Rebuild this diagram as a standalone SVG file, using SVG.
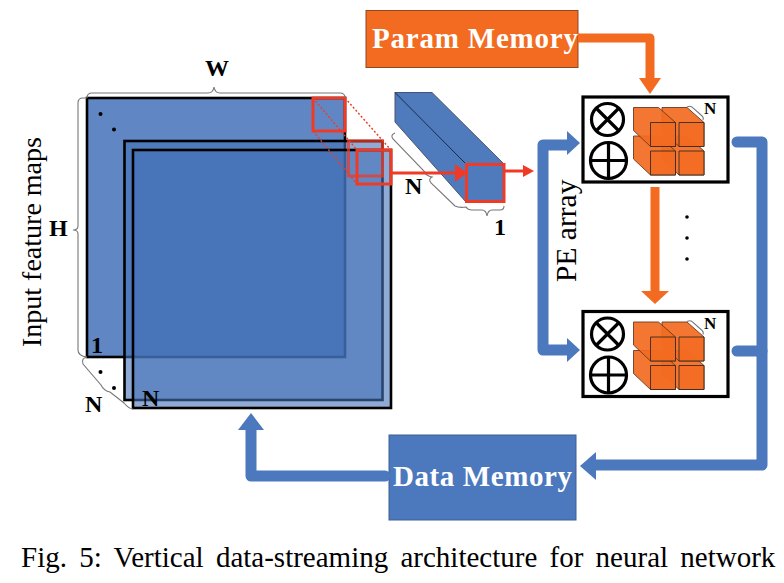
<svg xmlns="http://www.w3.org/2000/svg" width="784" height="583" viewBox="0 0 784 583">
<style>
text{font-family:"Liberation Serif","Times New Roman",serif;fill:#000}
.b{font-weight:bold;font-size:24px}
.mem{font-weight:bold;font-size:29px;fill:#fff}
.sheet{fill:#4472b8;fill-opacity:.6;stroke:#000;stroke-width:2.6}
.redbox{fill:none;stroke:#f03a26;stroke-width:3}
.dash{fill:none;stroke:#f03a26;stroke-width:1.4;stroke-dasharray:2 2}
.brace{fill:none;stroke:#777;stroke-width:1.1}
.bl{fill:none;stroke:#4c78bd;stroke-width:11;stroke-linejoin:round;stroke-linecap:round}
.blf{fill:#4c78bd}
.or{fill:none;stroke:#f26b21;stroke-width:9;stroke-linejoin:round}
.orf{fill:#f26b21}
.pe{fill:#fff;stroke:#000;stroke-width:3.2}
.c{fill:none;stroke:#000;stroke-width:3.2}
.ct{fill:#f26b21;fill-opacity:.92;stroke:#6a3a20;stroke-width:.9}
.cf{fill:#f26b21;fill-opacity:.8;stroke:#3a2a20;stroke-width:.9}
</style>
<defs>
<g id="cube"><path class="ct" d="M0 0H25L42 15V39H17L0 23Z"/><path class="cf" d="M17 15H42V39H17Z"/></g>
<g id="pearr">
<rect class="pe" x="0" y="0" width="145" height="85"/>
<circle class="c" cx="24.500" cy="22.500" r="16"/><path class="c" d="M13 11L36 34M36 11L13 34"/>
<circle class="c" cx="25.500" cy="63.500" r="18"/><path class="c" d="M7.500 63.500H43.500M25.500 45.500V81.500"/>
<use href="#cube" x="79" y="39"/><use href="#cube" x="50.500" y="39"/><use href="#cube" x="79" y="10.500"/><use href="#cube" x="50.500" y="10.500"/>
<path class="brace" d="M104 10Q108 8 110 11L118 18Q121 20 120 23"/>
<text class="b" x="121" y="17" style="font-size:17px">N</text>
</g>
</defs>
<g id="feature-maps">
<rect class="sheet" style="fill-opacity:.85" x="87" y="98" width="258" height="259"/>
<rect class="sheet" x="124.500" y="141" width="258" height="259"/>
<rect class="sheet" x="133" y="150" width="258" height="258"/>
<circle cx="100.500" cy="114" r="2"/><circle cx="114" cy="129.500" r="2"/>
<circle cx="100.500" cy="372" r="2"/><circle cx="114" cy="388" r="2"/>
<rect class="redbox" x="313" y="98" width="32" height="33"/>
<rect class="redbox" x="348.500" y="141" width="34" height="35" style="stroke-opacity:.75"/>
<rect class="redbox" x="357" y="150" width="34" height="34"/>
<path class="dash" d="M313 98L357 150M345 98L391 150M313 131L357 184"/>
<path class="brace" d="M87 98Q87 93 92 93H208Q213 93 214 87Q215 93 220 93H340Q345 93 345 98"/>
<path class="brace" d="M87 98H83Q78 98 78 103V226Q78 230 73 230Q78 230 78 234V350Q78 356 87 357"/>
<path class="brace" d="M87 357Q81 358 83 364L101 385Q104 391 110 392L124 403Q129 409 133 409"/>
<text class="b" x="205" y="76">W</text>
<text class="b" x="49" y="236">H</text>
<text class="b" x="91" y="353">1</text>
<text class="b" x="85" y="412">N</text>
<text class="b" x="142" y="406">N</text>
<text x="41" y="347" font-size="28" transform="rotate(-90 41 347)">Input feature maps</text>
</g>
<g id="prism">
<path d="M395 92.500H432L504 164V202H466L395 122Z" fill="#4f7bbd" stroke="#46556f" stroke-width="1"/>
<path d="M395 92.500L466 164" stroke="#1b2a44" stroke-width="1" fill="none"/>
<path class="brace" d="M395 133Q390 135 393 139L424 171Q426 176 432 177Q428 179 431 183L455 206Q459 208 466 207Q468 210 472 210H482Q486 210 487 216Q488 210 492 210H500Q504 210 504 206"/>
<rect class="redbox" x="466.500" y="164.500" width="37.500" height="37"/>
<text class="b" x="405" y="194">N</text>
<text class="b" x="494" y="235">1</text>
</g>
<g id="param-memory">
<rect x="366" y="10.500" width="212" height="57" fill="#f26b21" stroke="#8a4a22" stroke-width="1"/>
<text class="mem" x="372" y="48" textLength="206">Param Memory</text>
</g>
<g id="data-memory">
<rect x="389" y="435" width="187" height="85" fill="#4c78bd" stroke="#3d5f96" stroke-width="1"/>
<text class="mem" x="393" y="486" textLength="179">Data Memory</text>
</g>
<g id="pe-top" transform="translate(583 97)"><use href="#pearr"/></g>
<g id="pe-bottom" transform="translate(583 311.500)"><use href="#pearr"/></g>
<g id="connectors">
<path class="or" d="M578 38H650V78"/><path class="orf" d="M639 78H661L650 94Z"/>
<path class="or" d="M655 187V291"/><path class="orf" d="M641 291H669L655 304Z"/>
<path d="M391 173H456" fill="none" stroke="#f03a26" stroke-width="3"/><path d="M455 164L467 173L455 182Z" fill="#f03a26"/>
<path d="M504 171H524" fill="none" stroke="#f03a26" stroke-width="3"/><path d="M523 165L534 171L523 177Z" fill="#f03a26"/>
<path class="bl" d="M568 145H543V350H568"/>
<path class="blf" d="M567 131L580 143L567 155Z"/><path class="blf" d="M567 338L580 350L567 362Z"/>
<path class="bl" d="M737 142H762V465H595"/>
<path class="bl" d="M737 351H762"/>
<path class="blf" d="M596 452L580 466L596 480Z"/>
<path class="bl" d="M385 476H251V429"/>
<path class="blf" d="M238 430L251 413L264 430Z"/>
</g>
<g id="labels">
<text x="576" y="282" font-size="29.500" transform="rotate(-90 576 282)">PE array</text>
<circle cx="687" cy="217" r="1.800"/><circle cx="687" cy="238" r="1.800"/><circle cx="687" cy="259" r="1.800"/>
<text x="21" y="567" font-size="29" word-spacing="5">Fig. 5: Vertical data-streaming architecture for neural network</text>
</g>
</svg>
